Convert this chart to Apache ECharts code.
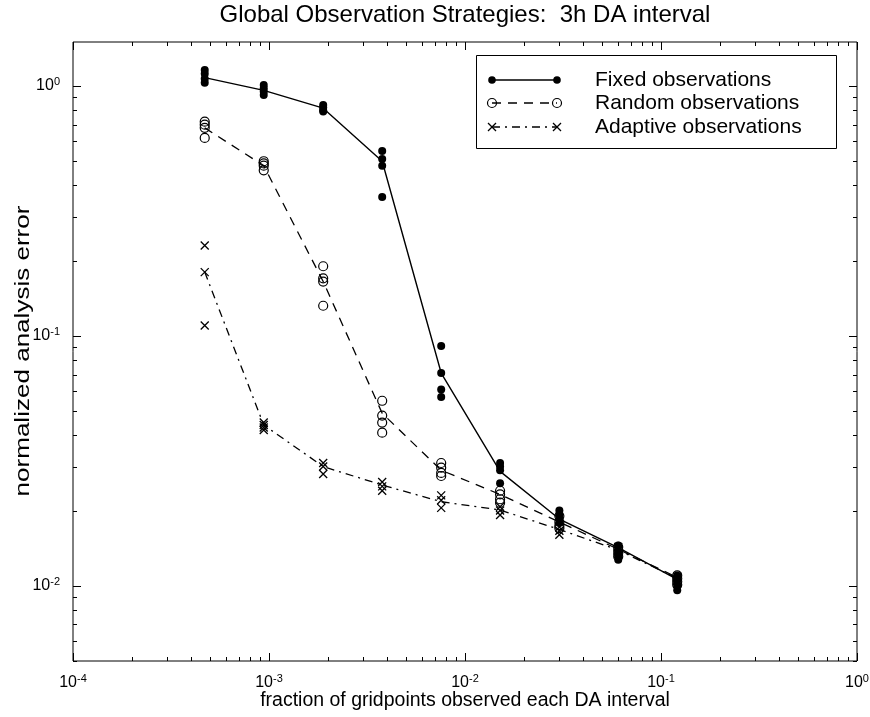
<!DOCTYPE html>
<html>
<head>
<meta charset="utf-8">
<title>Global Observation Strategies</title>
<script src="https://cdn.jsdelivr.net/npm/echarts@6/dist/echarts.min.js"></script>
<style>
  html, body { margin: 0; padding: 0; background: #fff; }
  #chart { width: 870px; height: 717px; }
</style>
</head>
<body>
<div id="chart"></div>
<script>
// fraction of gridpoints observed per DA interval (one group of runs at each)
var xFrac = [4.7e-4, 9.4e-4, 1.89e-3, 3.78e-3, 7.56e-3, 1.51e-2, 3.03e-2, 6.05e-2, 1.21e-1];

// connecting curves
var fixedLine = [1.08, 0.96, 0.815, 0.50, 0.071, 0.0287, 0.0185, 0.0142, 0.0106];
var randomLine = [0.68, 0.48, 0.165, 0.049, 0.029, 0.0232, 0.0180, 0.0140, 0.0108];
var adaptiveLine = [0.18, 0.044, 0.030, 0.0253, 0.0217, 0.0201, 0.0168, 0.0139, 0.0107];

// individual runs at each x
var fixedPts = [
  [1.16, 1.12, 1.07, 1.03],
  [1.01, 0.98, 0.95, 0.92],
  [0.84, 0.82, 0.80, 0.79],
  [0.55, 0.51, 0.48, 0.36],
  [0.091, 0.071, 0.061, 0.057],
  [0.031, 0.030, 0.029, 0.0257],
  [0.0200, 0.0193, 0.0186, 0.0179],
  [0.0145, 0.0138, 0.0132, 0.0127],
  [0.0110, 0.0105, 0.0100, 0.0096]
];
var randomPts = [
  [0.72, 0.70, 0.68, 0.62],
  [0.50, 0.49, 0.48, 0.46],
  [0.19, 0.17, 0.165, 0.132],
  [0.055, 0.048, 0.045, 0.041],
  [0.031, 0.0297, 0.0283, 0.0275],
  [0.024, 0.0232, 0.0222, 0.0215],
  [0.0190, 0.0180, 0.0174, 0.0170],
  [0.0143, 0.0139, 0.0135, 0.0131],
  [0.0110, 0.0107, 0.0104, 0.0101]
];
var adaptivePts = [
  [0.23, 0.18, 0.11],
  [0.045, 0.044, 0.043, 0.042],
  [0.031, 0.030, 0.028],
  [0.026, 0.025, 0.024],
  [0.023, 0.022, 0.0205],
  [0.0207, 0.020, 0.0192],
  [0.0172, 0.0166, 0.0160],
  [0.0143, 0.0138, 0.0134],
  [0.0109, 0.0105, 0.0102]
];

var legendNames = ["Fixed observations", "Random observations", "Adaptive observations"];
var yTitle = "normalized analysis error";

var xMin = 1e-4, xMax = 1, yMin = 0.005, yMax = 1.5;

var FONT = "Liberation Sans";

function curve(ys) {
  return xFrac.map(function (x, i) { return [x, ys[i]]; });
}
function runs(groups) {
  var out = [];
  groups.forEach(function (g, i) {
    g.forEach(function (v) { out.push([xFrac[i], v]); });
  });
  return out;
}
// decade and 2..9 ticks inside [lo, hi]
function logTicks(lo, hi) {
  var out = [];
  for (var k = Math.floor(Math.log10(lo)); k <= Math.ceil(Math.log10(hi)); k++) {
    for (var m = 1; m < 10; m++) {
      var v = m * Math.pow(10, k);
      if (v >= lo * 0.999 && v <= hi * 1.001) out.push([v, m === 1 ? 8 : 4]);
    }
  }
  return out;
}
function expLabel(v) {
  var l = Math.log10(v), e = Math.round(l);
  if (Math.abs(l - e) > 1e-6) return "";
  return "{b|10}{s|" + e + "}";
}

var labelRich = {
  b: { fontSize: 16, fontFamily: FONT, color: "#000" },
  s: { fontSize: 11, fontFamily: FONT, color: "#000", padding: [0, 0, 8, 0] }
};

var tickStyle = { stroke: "#000", lineWidth: 1 };

var crossPath = "path://M0,0L10,10M10,0L0,10";

var chart = echarts.init(document.getElementById("chart"));

var option = {
  animation: false,
  backgroundColor: "#fff",
  title: {
    text: "Global Observation Strategies:  3h DA interval",
    left: 465,
    top: 3,
    padding: 0,
    textAlign: "center",
    textStyle: { fontFamily: FONT, fontSize: 24, fontWeight: "normal", color: "#000" }
  },
  grid: {
    left: 73, right: 13, top: 42, bottom: 56,
    containLabel: false, outerBoundsMode: "none",
    show: true, borderColor: "#000", borderWidth: 1, backgroundColor: "transparent"
  },
  xAxis: {
    type: "log", logBase: 10, min: xMin, max: xMax,
    name: "fraction of gridpoints observed each DA interval",
    nameLocation: "middle", nameGap: 30, nameMoveOverlap: false,
    nameTextStyle: { fontFamily: FONT, fontSize: 19.5, color: "#000" },
    axisLine: { show: false }, axisTick: { show: false }, splitLine: { show: false },
    axisLabel: { formatter: expLabel, rich: labelRich, margin: 12 }
  },
  yAxis: {
    type: "log", logBase: 10, min: yMin, max: yMax,
    axisLine: { show: false }, axisTick: { show: false }, splitLine: { show: false },
    axisLabel: { formatter: expLabel, rich: labelRich, margin: 13 }
  },
  series: [
    {
      type: "custom", coordinateSystem: "cartesian2d", silent: true, clip: false, z: 5,
      data: logTicks(xMin, xMax).map(function (t) { return [t[0], yMin, t[1]]; }),
      encode: { x: 0, y: 1 },
      renderItem: function (params, api) {
        var cs = params.coordSys;
        var px = Math.round(api.coord([api.value(0), api.value(1)])[0]) + 0.5;
        var len = api.value(2), bot = cs.y + cs.height, top = cs.y;
        return { type: "group", children: [
          { type: "line", shape: { x1: px, y1: bot, x2: px, y2: bot - len }, style: tickStyle },
          { type: "line", shape: { x1: px, y1: top, x2: px, y2: top + len }, style: tickStyle }
        ] };
      }
    },
    {
      type: "custom", coordinateSystem: "cartesian2d", silent: true, clip: false, z: 5,
      data: logTicks(yMin, yMax).map(function (t) { return [xMin, t[0], t[1]]; }),
      encode: { x: 0, y: 1 },
      renderItem: function (params, api) {
        var cs = params.coordSys;
        var py = Math.round(api.coord([api.value(0), api.value(1)])[1]) + 0.5;
        var len = api.value(2), l = cs.x, r = cs.x + cs.width;
        return { type: "group", children: [
          { type: "line", shape: { x1: l, y1: py, x2: l + len, y2: py }, style: tickStyle },
          { type: "line", shape: { x1: r, y1: py, x2: r - len, y2: py }, style: tickStyle }
        ] };
      }
    },
    {
      name: legendNames[0], type: "line", data: curve(fixedLine), symbol: "none",
      lineStyle: { color: "#000", width: 1.4, type: "solid" }
    },
    {
      name: legendNames[1], type: "line", data: curve(randomLine), symbol: "none",
      lineStyle: { color: "#000", width: 1.3, type: [9, 7] }
    },
    {
      name: legendNames[2], type: "line", data: curve(adaptiveLine), symbol: "none",
      lineStyle: { color: "#000", width: 1.3, type: [8, 5, 2, 5] }
    },
    {
      type: "scatter", data: runs(randomPts), symbol: "circle", symbolSize: 9,
      itemStyle: { color: "rgba(0,0,0,0)", borderColor: "#000", borderWidth: 1.2, opacity: 1 }
    },
    {
      type: "scatter", data: runs(adaptivePts), symbol: crossPath, symbolSize: 8,
      itemStyle: { color: "none", borderColor: "#000", borderWidth: 1.3, opacity: 1 }
    },
    {
      type: "scatter", data: runs(fixedPts), symbol: "circle", symbolSize: 8,
      itemStyle: { color: "#000", opacity: 1 }
    }
  ],
  graphic: [
    // y axis title, stretched along its length like the original
    {
      type: "text", x: 23, y: 351, rotation: Math.PI / 2, scaleX: 1.24,
      style: { text: yTitle, fontFamily: FONT, fontSize: 21, fill: "#000", align: "center", verticalAlign: "middle" }
    },
    {
      type: "group", z: 100,
      children: [
        { type: "rect", shape: { x: 476.5, y: 55.5, width: 360, height: 93 },
          style: { fill: "#fff", stroke: "#000", lineWidth: 1 } },
        // fixed
        { type: "line", shape: { x1: 492, y1: 80, x2: 557, y2: 80 }, style: { stroke: "#000", lineWidth: 1.4 } },
        { type: "circle", shape: { cx: 492, cy: 80, r: 3.8 }, style: { fill: "#000" } },
        { type: "circle", shape: { cx: 557, cy: 80, r: 3.8 }, style: { fill: "#000" } },
        { type: "text", x: 595, y: 80, style: { text: legendNames[0], fontFamily: FONT, fontSize: 21, fill: "#000", verticalAlign: "middle" } },
        // random
        { type: "line", shape: { x1: 492, y1: 103, x2: 557, y2: 103 }, style: { stroke: "#000", lineWidth: 1.3, lineDash: [9, 7] } },
        { type: "circle", shape: { cx: 492, cy: 103, r: 4.5 }, style: { fill: "none", stroke: "#000", lineWidth: 1.2 } },
        { type: "circle", shape: { cx: 557, cy: 103, r: 4.5 }, style: { fill: "none", stroke: "#000", lineWidth: 1.2 } },
        { type: "text", x: 595, y: 103, style: { text: legendNames[1], fontFamily: FONT, fontSize: 21, fill: "#000", verticalAlign: "middle" } },
        // adaptive
        { type: "line", shape: { x1: 492, y1: 127, x2: 557, y2: 127 }, style: { stroke: "#000", lineWidth: 1.3, lineDash: [8, 5, 2, 5] } },
        { type: "polyline", shape: { points: [[488, 123], [496, 131]] }, style: { stroke: "#000", lineWidth: 1.3 } },
        { type: "polyline", shape: { points: [[496, 123], [488, 131]] }, style: { stroke: "#000", lineWidth: 1.3 } },
        { type: "polyline", shape: { points: [[553, 123], [561, 131]] }, style: { stroke: "#000", lineWidth: 1.3 } },
        { type: "polyline", shape: { points: [[561, 123], [553, 131]] }, style: { stroke: "#000", lineWidth: 1.3 } },
        { type: "text", x: 595, y: 127, style: { text: legendNames[2], fontFamily: FONT, fontSize: 21, fill: "#000", verticalAlign: "middle" } }
      ]
    }
  ]
};

chart.setOption(option);
window.addEventListener("resize", function () { chart.resize(); });
</script>
</body>
</html>
